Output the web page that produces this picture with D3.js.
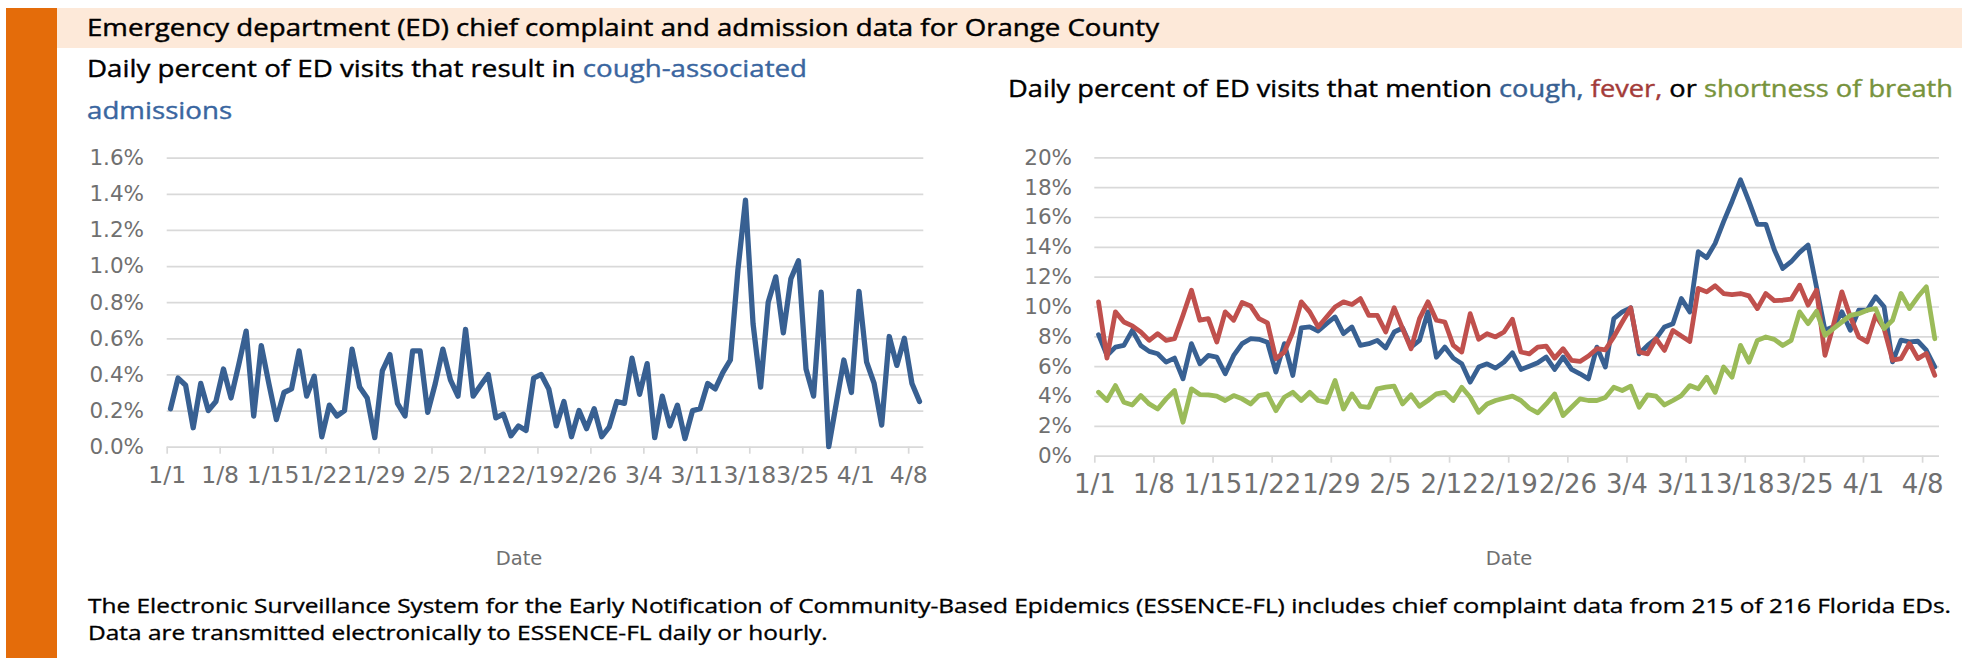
<!DOCTYPE html>
<html><head><meta charset="utf-8">
<script src="https://cdn.jsdelivr.net/npm/d3@7"></script>
<style>
html,body{margin:0;padding:0;background:#fff;}
svg{display:block;}
</style>
</head><body><div id="chart"></div>
<script>
// ---------- DATA ----------
const xTickLabels = ["1/1","1/8","1/15","1/22","1/29","2/5","2/12","2/19","2/26","3/4","3/11","3/18","3/25","4/1","4/8"];
const xTickIndex  = [0,7,14,21,28,35,42,49,56,63,70,77,84,91,98];
const leftYTicks  = [0,0.2,0.4,0.6,0.8,1.0,1.2,1.4,1.6];
const rightYTicks = [0,2,4,6,8,10,12,14,16,18,20];

// Daily % of ED visits resulting in cough-associated admissions (1/1 .. 4/9)
const coughAdmissions = [0.21,0.38,0.34,0.105,0.35,0.20,0.25,0.43,0.27,0.45,
  0.64,0.17,0.56,0.35,0.15,0.30,0.32,0.53,0.28,0.39,
  0.055,0.23,0.17,0.20,0.54,0.33,0.27,0.05,0.42,0.51,
  0.24,0.17,0.53,0.53,0.19,0.35,0.54,0.37,0.28,0.65,
  0.28,0.34,0.40,0.16,0.18,0.06,0.115,0.09,0.38,0.40,
  0.32,0.115,0.25,0.055,0.20,0.10,0.21,0.055,0.11,0.25,
  0.24,0.49,0.29,0.46,0.05,0.28,0.115,0.23,0.045,0.20,
  0.21,0.35,0.32,0.41,0.48,0.98,1.365,0.68,0.33,0.80,
  0.94,0.63,0.93,1.03,0.43,0.28,0.855,0.0,0.24,0.48,
  0.30,0.86,0.47,0.35,0.12,0.61,0.45,0.60,0.35,0.25];

// Daily % of ED visits mentioning cough / fever / shortness of breath
const coughVisits = [8.11,6.72,7.28,7.39,8.40,7.39,6.99,6.83,6.27,6.54,
  5.15,7.51,6.16,6.72,6.61,5.49,6.72,7.51,7.84,7.80,
  7.60,5.60,7.51,5.38,8.56,8.63,8.36,8.85,9.30,8.18,
  8.63,7.39,7.51,7.73,7.22,8.29,8.56,7.28,7.73,9.64,
  6.60,7.28,6.54,6.16,4.93,5.94,6.16,5.87,6.27,6.90,
  5.78,6.00,6.23,6.61,5.78,6.61,5.78,5.49,5.15,7.28,
  5.94,9.19,9.64,9.91,6.83,7.39,7.84,8.63,8.85,10.53,
  9.64,13.67,13.27,14.23,15.69,17.04,18.49,17.04,15.51,15.51,
  13.80,12.55,13.00,13.63,14.12,11.30,8.41,8.64,9.64,8.41,
  9.75,9.75,10.65,9.98,6.29,7.74,7.63,7.67,7.07,5.95];
const feverVisits = [10.31,6.54,9.64,8.96,8.70,8.29,7.73,8.18,7.73,7.84,
  9.41,11.09,9.08,9.19,7.62,9.64,9.08,10.27,10.04,9.19,
  8.90,6.50,6.95,8.29,10.31,9.64,8.63,9.30,9.97,10.31,
  10.13,10.53,9.41,9.41,8.29,9.91,8.52,7.17,9.19,10.31,
  9.08,8.96,7.39,6.95,9.52,7.80,8.18,7.96,8.29,9.14,
  6.95,6.83,7.28,7.35,6.54,7.17,6.39,6.32,6.68,7.17,
  7.10,7.96,8.96,9.91,6.95,6.83,7.84,7.06,8.40,8.02,
  7.66,11.21,10.98,11.39,10.87,10.80,10.87,10.71,9.86,10.87,
  10.40,10.42,10.49,11.43,10.09,11.09,6.73,8.75,10.98,9.31,
  7.96,7.63,9.42,8.52,6.40,6.51,7.52,6.51,6.85,5.39];
const sobVisits = [4.25,3.70,4.70,3.58,3.40,4.03,3.47,3.13,3.81,4.37,
  2.24,4.48,4.10,4.08,3.99,3.70,4.03,3.81,3.47,4.03,
  4.14,3.02,3.92,4.25,3.70,4.25,3.70,3.58,5.04,3.13,
  4.14,3.31,3.24,4.48,4.59,4.66,3.47,4.08,3.31,3.70,
  4.14,4.25,3.70,4.59,3.92,2.91,3.47,3.70,3.85,3.99,
  3.70,3.18,2.87,3.47,4.14,2.69,3.25,3.81,3.70,3.70,
  3.90,4.59,4.37,4.66,3.25,4.08,3.99,3.40,3.70,4.03,
  4.70,4.48,5.26,4.25,5.94,5.26,7.39,6.27,7.73,7.96,
  7.80,7.39,7.73,9.64,8.85,9.68,8.07,8.52,8.96,9.41,
  9.52,9.75,9.86,8.52,9.08,10.87,9.86,10.65,11.32,7.84];

const nDays = coughAdmissions.length; // 100 daily categories

// ---------- DRAW ----------
const W = 1967, H = 658;
const svg = d3.select("#chart").append("svg").attr("width", W).attr("height", H)
  .style("background", "#fff");

const HEAD_FONT = "'Open Sans', 'Liberation Sans', Arial, sans-serif";
const AXIS_FONT = "'DejaVu Sans', Verdana, sans-serif";
const BLUE = "#386092", RED = "#C0504D", GREEN = "#9BBB59";
const GRID = "#d9d9d9", LABEL = "#707070";

function fit(sel, target) {
  const w = sel.node().getComputedTextLength();
  sel.attr("textLength", target).attr("lengthAdjust", "spacingAndGlyphs");
  return target / w;
}
function scaleBy(sel, ratio) {
  const w = sel.node().getComputedTextLength();
  sel.attr("textLength", w * ratio).attr("lengthAdjust", "spacingAndGlyphs");
}

// header band
svg.append("rect").attr("x", 6).attr("y", 8).attr("width", 51).attr("height", H - 8).attr("fill", "#E46C0A");
svg.append("rect").attr("x", 57).attr("y", 8).attr("width", 1905).attr("height", 40).attr("fill", "#FDE9D9");
const title = svg.append("text").attr("x", 87).attr("y", 36)
  .attr("font-family", HEAD_FONT).attr("font-size", 24.5).attr("fill", "#000")
  .attr("stroke", "#000").attr("stroke-width", 0.45)
  .text("Emergency department (ED) chief complaint and admission data for Orange County");
fit(title, 1072);

// left subtitle
const ls1 = svg.append("text").attr("x", 87).attr("y", 77)
  .attr("font-family", HEAD_FONT).attr("font-size", 24.5).attr("fill", "#000").attr("stroke", "#000").attr("stroke-width", 0.4);
ls1.append("tspan").text("Daily percent of ED visits that result in ");
ls1.append("tspan").attr("fill", "#3A66A0").attr("stroke", "#3A66A0").text("cough-associated");
const r1 = fit(ls1, 720);
const ls2 = svg.append("text").attr("x", 87).attr("y", 119)
  .attr("font-family", HEAD_FONT).attr("font-size", 24.5).attr("fill", "#3A66A0").attr("stroke", "#3A66A0").attr("stroke-width", 0.4)
  .text("admissions");
scaleBy(ls2, r1);

// right subtitle
const rs = svg.append("text").attr("x", 1008).attr("y", 97)
  .attr("font-family", HEAD_FONT).attr("font-size", 23.5).attr("fill", "#000").attr("stroke", "#000").attr("stroke-width", 0.4);
rs.append("tspan").text("Daily percent of ED visits that mention ");
rs.append("tspan").attr("fill", "#376092").attr("stroke", "#376092").text("cough,");
rs.append("tspan").text(" ");
rs.append("tspan").attr("fill", "#A33B39").attr("stroke", "#A33B39").text("fever,");
rs.append("tspan").text(" or ");
rs.append("tspan").attr("fill", "#77933C").attr("stroke", "#77933C").text("shortness of breath");
fit(rs, 945);

// footer
const f1 = svg.append("text").attr("x", 88).attr("y", 613)
  .attr("font-family", HEAD_FONT).attr("font-size", 20.5).attr("fill", "#000").attr("stroke", "#000").attr("stroke-width", 0.35)
  .text("The Electronic Surveillance System for the Early Notification of Community-Based Epidemics (ESSENCE-FL) includes chief complaint data from 215 of 216 Florida EDs.");
const r2 = fit(f1, 1863);
const f2 = svg.append("text").attr("x", 88).attr("y", 640)
  .attr("font-family", HEAD_FONT).attr("font-size", 20.5).attr("fill", "#000").attr("stroke", "#000").attr("stroke-width", 0.35)
  .text("Data are transmitted electronically to ESSENCE-FL daily or hourly.");
scaleBy(f2, r2);

function panel(opt) {
  const x = d3.scaleLinear().domain([0, nDays]).range([opt.x0, opt.x1]);
  const y = d3.scaleLinear().domain([opt.yTicks[0], opt.yTicks[opt.yTicks.length - 1]]).range([opt.yb, opt.yt]);
  const g = svg.append("g");

  // gridlines + y labels
  const ya = g.append("g").attr("transform", `translate(${opt.x0},0)`)
    .call(d3.axisLeft(y).tickValues(opt.yTicks).tickSize(-(opt.x1 - opt.x0)).tickPadding(opt.x0 - opt.labelRight).tickFormat(opt.fmt));
  ya.select(".domain").remove();
  ya.selectAll(".tick line").attr("stroke", GRID).attr("stroke-width", 1.7);
  ya.selectAll(".tick text").attr("font-family", AXIS_FONT).attr("font-size", 21.5).attr("fill", LABEL);

  // x axis
  const xa = g.append("g").attr("transform", `translate(0,${opt.yb})`)
    .call(d3.axisBottom(x).tickValues(xTickIndex).tickSize(7).tickPadding(opt.xPad)
      .tickFormat((d, i) => xTickLabels[i]));
  xa.select(".domain").remove();
  xa.selectAll(".tick line").attr("stroke", GRID).attr("stroke-width", 1.7);
  xa.selectAll(".tick text").attr("font-family", AXIS_FONT).attr("font-size", opt.xFont).attr("fill", LABEL);

  g.append("text").attr("x", opt.dateX).attr("y", 565).attr("text-anchor", "middle")
    .attr("font-family", AXIS_FONT).attr("font-size", 19.5).attr("fill", LABEL).text("Date");

  const line = d3.line().x((d, i) => x(i + 0.5)).y(d => y(d));
  opt.series.forEach(s => {
    g.append("path").datum(s.values).attr("d", line).attr("fill", "none")
      .attr("stroke", s.color).attr("stroke-width", opt.lw)
      .attr("stroke-linejoin", "round").attr("stroke-linecap", "round");
  });
}

panel({
  x0: 166.7, x1: 923.3, yt: 157.7, yb: 446.7, labelRight: 144,
  yTicks: leftYTicks, fmt: d => d.toFixed(1) + "%", dateX: 519, lw: 5.3,
  xFont: 23.5, xPad: 13,
  series: [{ values: coughAdmissions, color: BLUE }]
});
panel({
  x0: 1094.3, x1: 1939, yt: 157.3, yb: 455.7, labelRight: 1072,
  yTicks: rightYTicks, fmt: d => d + "%", dateX: 1509, lw: 4.8,
  xFont: 26, xPad: 11.5,
  series: [
    { values: coughVisits, color: BLUE },
    { values: feverVisits, color: RED },
    { values: sobVisits, color: GREEN }
  ]
});
</script>
</body></html>
